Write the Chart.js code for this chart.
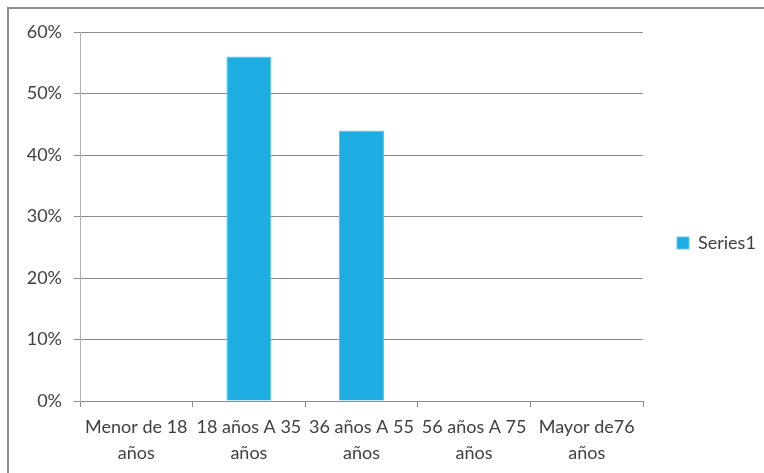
<!DOCTYPE html>
<html>
<head>
<meta charset="utf-8">
<script src="https://cdn.jsdelivr.net/npm/chart.js@4"></script>
<style>
  html, body { margin: 0; padding: 0; background: #fff; }
  #wrap { position: relative; width: 764px; height: 473px; overflow: hidden; }
  #frame { position: absolute; left: 7px; top: 7px; width: 800px; height: 500px; border: 2px solid #8c8c8c; }
  canvas { position: absolute; left: 0; top: 0; }
</style>
</head>
<body>
<div id="wrap">
  <div id="frame"></div>
  <canvas id="chart" width="764" height="473"></canvas>
</div>
<script>
// categories (two lines each, as in the original)
const categories = [
  ['Menor de 18', 'años'],
  ['18 años A 35', 'años'],
  ['36 años A 55', 'años'],
  ['56 años A 75', 'años'],
  ['Mayor de76', 'años']
];
const series1 = [0, 56, 44, 0, 0];
const yTicks = [0, 10, 20, 30, 40, 50, 60];

const textFont = { family: 'Lato, "Open Sans", sans-serif', size: 18, lineHeight: 1.4 };
const textColor = '#404040';

// keep the legend column at a fixed width so the plot ends where the original does
const legendWidth = {
  id: 'legendWidth',
  afterInit(chart) {
    const fit = chart.legend.fit;
    chart.legend.fit = function () {
      fit.call(this);
      this.width = 121;
    };
  }
};

new Chart(document.getElementById('chart'), {
  type: 'bar',
  data: {
    labels: categories,
    datasets: [{
      label: 'Series1',
      data: series1,
      backgroundColor: '#1eade2',
      borderColor: '#62c6ec',
      borderWidth: 1,
      categoryPercentage: 1,
      barPercentage: 0.4
    }]
  },
  options: {
    responsive: false,
    animation: false,
    layout: { padding: { top: 32, bottom: 19, left: 0, right: 0 } },
    plugins: {
      tooltip: { enabled: false },
      legend: {
        position: 'right',
        labels: {
          font: { family: textFont.family, size: 18 },
          color: textColor,
          boxWidth: 12,
          boxHeight: 12,
          padding: 34
        }
      }
    },
    scales: {
      x: {
        grid: {
          offset: true,
          drawOnChartArea: false,
          color: '#8c8c8c',
          tickLength: 6
        },
        border: { color: '#8c8c8c' },
        ticks: {
          font: textFont,
          color: textColor,
          maxRotation: 0,
          autoSkip: false,
          padding: 8
        },
        afterFit: (scale) => {
          scale.height = 53;
          // second label line runs below the axis box, so don't clip it
          scale._computeLabelArea = () => null;
        }
      },
      y: {
        min: 0,
        max: 60,
        afterBuildTicks: (scale) => { scale.ticks = yTicks.map(v => ({ value: v })); },
        grid: { color: '#8c8c8c', tickLength: 6 },
        border: { color: '#b0b0b0' },
        ticks: {
          font: textFont,
          color: textColor,
          padding: 12,
          callback: (v) => v + '%'
        },
        afterFit: (scale) => { scale.width = 80; }
      }
    }
  },
  plugins: [legendWidth]
});
</script>
</body>
</html>
